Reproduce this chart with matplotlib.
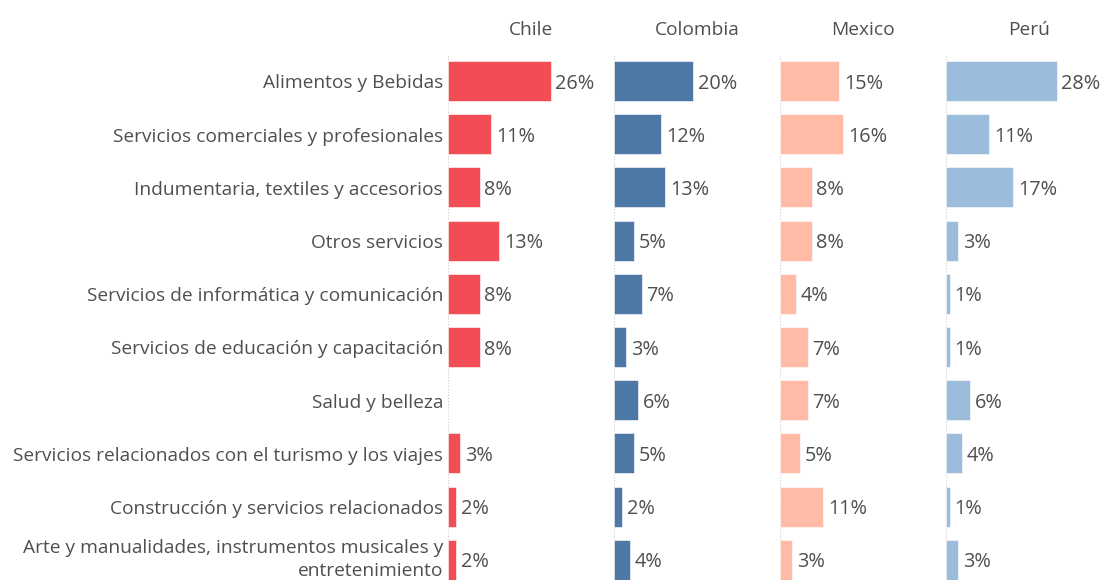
import matplotlib
matplotlib.use('Agg')
import matplotlib.pyplot as plt

# Category labels (top to bottom) and share per country (%)
categories = [
    'Alimentos y Bebidas',
    'Servicios comerciales y profesionales',
    'Indumentaria, textiles y accesorios',
    'Otros servicios',
    'Servicios de informática y comunicación',
    'Servicios de educación y capacitación',
    'Salud y belleza',
    'Servicios relacionados con el turismo y los viajes',
    'Construcción y servicios relacionados',
    'Arte y manualidades, instrumentos musicales y\nentretenimiento',
]
countries = ['Chile', 'Colombia', 'Mexico', 'Perú']
chile = [26, 11, 8, 13, 8, 8, None, 3, 2, 2]
colombia = [20, 12, 13, 5, 7, 3, 6, 5, 2, 4]
mexico = [15, 16, 8, 8, 4, 7, 7, 5, 11, 3]
peru = [28, 11, 17, 3, 1, 1, 6, 4, 1, 3]

series = [chile, colombia, mexico, peru]
colors = ['#F24D55', '#4E79A7', '#FFBBA6', '#9CBCDC']
TEXT = '#4f4f4f'
FS = 13.8
FS_VAL = 14.3

plt.rcParams['font.family'] = ['Open Sans', 'DejaVu Sans']

W, H = 1102, 580
fig = plt.figure(figsize=(W / 100, H / 100), dpi=100)

# pixel geometry of the panel grid
x0 = 448
panel_w = 166
px_per_pct = 3.95
row_h = 53.2
top = 81 - row_h / 2
n = len(categories)
bottom = top + row_h * n
text_drop = 0.05  # nudge text down a little to sit on the bar centre

for k, (name, vals, col) in enumerate(zip(countries, series, colors)):
    left = x0 + k * panel_w
    width = min(panel_w, W - left)
    ax = fig.add_axes([left / W, (H - bottom) / H, width / W, (bottom - top) / H])
    ax.set_xlim(0, width / px_per_pct)
    ax.set_ylim(n - 0.5, -0.5)
    ax.axvline(0, color='#cccccc', lw=0.8, linestyle=':', zorder=0)
    for i, v in enumerate(vals):
        if v is None:
            continue
        ax.barh(i, v, height=0.75, color=col, edgecolor='white', linewidth=0.4)
        ax.text(v + 1.2, i + text_drop, f'{v}%', va='center', ha='left',
                fontsize=FS_VAL, color=TEXT)
    ax.axis('off')
    fig.text((x0 + k * panel_w + panel_w / 2) / W, 1 - 30 / H, name,
             ha='center', va='center', fontsize=FS, color=TEXT)

# category labels on the left; the wrapped last one sits a touch higher
for i, cat in enumerate(categories):
    yc = 83.5 + i * row_h
    if '\n' in cat:
        yc -= 3
    fig.text(443 / W, 1 - yc / H, cat, ha='right', va='center',
             fontsize=FS, color=TEXT, linespacing=1.35)

fig.savefig('out.png', dpi=100, facecolor='white')
